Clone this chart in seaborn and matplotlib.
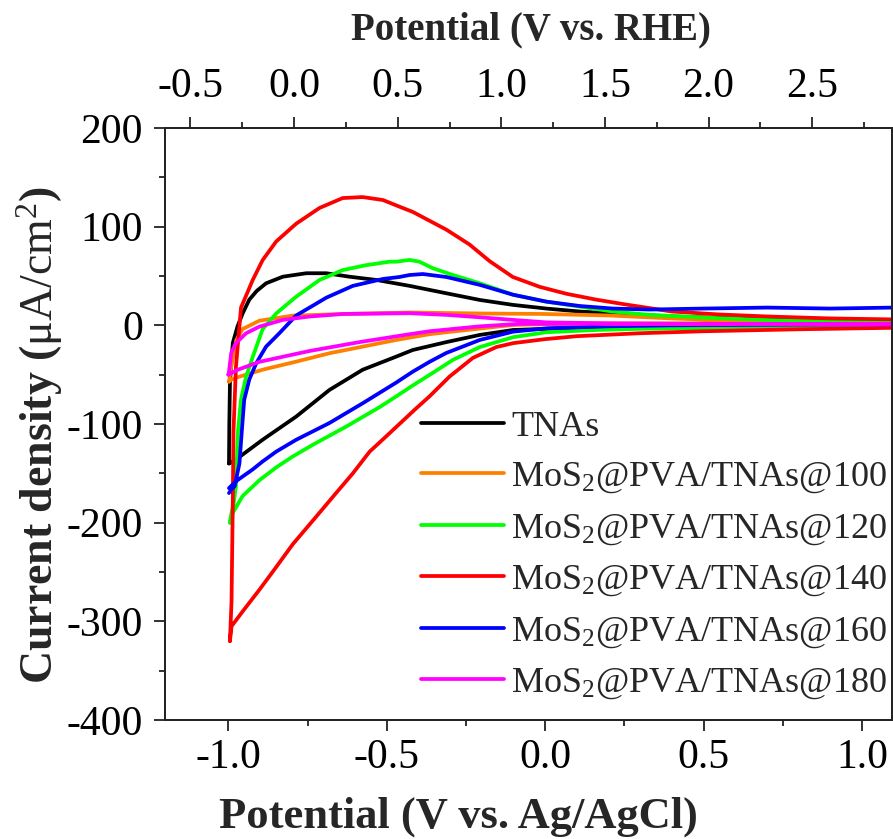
import numpy as np
import seaborn as sns
import matplotlib.pyplot as plt
from matplotlib.ticker import MultipleLocator

# ------------------- Data -------------------
labels = ['TNAs', 'MoS$_2$@PVA/TNAs@100', 'MoS$_2$@PVA/TNAs@120',
          'MoS$_2$@PVA/TNAs@140', 'MoS$_2$@PVA/TNAs@160', 'MoS$_2$@PVA/TNAs@180']
colors = ['#000000', '#FF8000', '#00FF00', '#FF0000', '#0000FF', '#FF00FF']

# each loop: anodic branch (left -> right) then cathodic branch (right -> left)
tnas_x = [-0.998, -0.997, -0.995, -0.99, -0.986, -0.971, -0.955, -0.934, -0.91, -0.881, -0.828,
          -0.754, -0.691, -0.618, -0.533, -0.428, -0.312, -0.206, -0.101, 0.004, 0.109, 0.213,
          0.4, 0.6, 0.8, 1.0, 1.2,
          1.2, 1.0, 0.7, 0.4, 0.2, 0.056, -0.101, -0.206, -0.312, -0.418, -0.47, -0.576,
          -0.681, -0.786, -0.892, -0.976, -0.998]
tnas_y = [-140, -100, -59, -35, -18, -1, 12, 26, 35, 42.6, 49.3,
          52.8, 52.8, 49.3, 46, 40, 32.5, 25.7, 20.7, 17, 14, 12,
          9, 7, 6, 5, 5,
          -1, -1, -1.5, -2, -2.5, -3, -4.7, -9.7, -17, -25, -31.7, -45,
          -65.5, -92.5, -116, -136, -140]

m100_x = [-0.998, -0.99, -0.975, -0.955, -0.902, -0.797, -0.639, -0.428, -0.2, 0.0, 0.2, 0.4,
          0.6, 0.8, 1.0, 1.2,
          1.2, 0.8, 0.4, 0.109, -0.101, -0.312, -0.365, -0.47, -0.576, -0.681, -0.786,
          -0.892, -0.965, -0.99, -0.998]
m100_y = [-57, -40, -15, -3.7, 4.7, 9.8, 11.5, 13, 12, 11.5, 10, 7,
          4.7, 3.5, 2.5, 2,
          2, 2, 2, 2, 0.4, -7, -9, -14.8, -21.6, -28.3, -36.8,
          -45, -52, -55, -57]

m120_x = [-0.995, -0.99, -0.983, -0.976, -0.97, -0.96, -0.944, -0.923, -0.892, -0.849, -0.786,
          -0.712, -0.639, -0.565, -0.491, -0.47, -0.428, -0.397, -0.354, -0.291, -0.206,
          -0.101, 0.004, 0.109, 0.213, 0.33, 0.5, 0.7, 0.9, 1.2,
          1.2, 0.9, 0.6, 0.3, 0.162, 0.004, -0.101, -0.206, -0.291, -0.344, -0.418, -0.47,
          -0.523, -0.628, -0.733, -0.797, -0.849, -0.902, -0.955, -0.986, -0.995]
m120_y = [-200, -190, -180, -163, -109, -75, -52, -32, -4, 12, 29,
          46, 56, 61, 64.5, 64.5, 66.3, 64.5, 57.8, 51, 42.6,
          31, 24, 19, 14, 10.6, 8, 5.5, 4, 3.5,
          -1, -1.5, -2.5, -3.5, -4.7, -7, -12, -22, -35, -46, -61, -72,
          -83, -102.6, -121, -133, -144, -157, -173, -190, -200]

m140_x = [-0.995, -0.99, -0.986, -0.984, -0.976, -0.96, -0.923, -0.892, -0.849, -0.786, -0.712,
          -0.639, -0.576, -0.512, -0.45, -0.418, -0.312, -0.239, -0.175, -0.102, -0.017, 0.067,
          0.162, 0.257, 0.4, 0.55, 0.7, 0.9, 1.1, 1.2,
          1.2, 1.1, 0.8, 0.5, 0.3, 0.1, 0.0, -0.1, -0.154, -0.228, -0.302, -0.365, -0.41,
          -0.46, -0.5, -0.554, -0.607, -0.66, -0.723, -0.797, -0.849, -0.902, -0.955, -0.99,
          -0.995]
m140_y = [-320, -280, -180, -109, -42, 18, 46, 66, 85, 103, 119,
          129, 130, 127, 119, 115, 97, 82, 65, 49, 39, 32,
          26, 21, 14, 11, 9, 7, 6, 5,
          -2, -2.5, -4, -6, -8, -11, -14, -18, -22, -33, -52, -72, -85,
          -100, -112, -128, -150, -170, -194, -222, -245, -268, -290, -305,
          -320]

m160_x = [-0.998, -0.99, -0.98, -0.965, -0.958, -0.95, -0.934, -0.912, -0.881, -0.839, -0.786,
          -0.733, -0.691, -0.607, -0.512, -0.46, -0.428, -0.386, -0.312, -0.206, -0.101, 0.004,
          0.109, 0.214, 0.33, 0.5, 0.7, 0.9, 1.1, 1.2,
          1.2, 1.0, 0.7, 0.4, 0.2, 0.004, -0.101, -0.206, -0.312, -0.365, -0.418, -0.47,
          -0.576, -0.681, -0.786, -0.849, -0.892, -0.923, -0.976, -0.998]
m160_y = [-170, -166, -163, -140, -109, -75.6, -55, -38.4, -21.6, -8, 10,
          20, 28, 40, 47, 49, 51, 52, 49, 41, 31, 24,
          19.6, 17, 16, 17, 18, 17, 18, 18,
          1, 1, 0.5, 0, -1, -3, -6.4, -14.8, -28, -37, -47, -58,
          -79, -99, -116, -128, -138, -146, -158, -165]

m180_x = [-1.0, -0.998, -0.991, -0.976, -0.944, -0.902, -0.828, -0.744, -0.639, -0.428, -0.312,
          -0.2, -0.101, 0.004, 0.2, 0.5, 0.8, 1.2,
          1.2, 0.5, 0.2, -0.08, -0.206, -0.365, -0.428, -0.586, -0.744, -0.902, -0.97, -1.0]
m180_y = [-50, -47, -28, -18, -8, -1.3, 5.5, 8.9, 11.5, 12.3, 10.6,
          8, 5.5, 3, 2, 1.5, 1, 1,
          1, 1, 1.5, 1.5, -1, -6, -9, -17, -26, -37, -45, -50]

series_x = [tnas_x, m100_x, m120_x, m140_x, m160_x, m180_x]
series_y = [tnas_y, m100_y, m120_y, m140_y, m160_y, m180_y]

# ------------------- Style -------------------
sns.set_style('ticks')
plt.rcParams['font.family'] = ['Liberation Serif', 'DejaVu Serif']
plt.rcParams['mathtext.fontset'] = 'custom'
plt.rcParams['mathtext.rm'] = 'Liberation Serif'
plt.rcParams['mathtext.it'] = 'Liberation Serif:italic'
plt.rcParams['mathtext.bf'] = 'Liberation Serif:bold'
plt.rcParams['axes.unicode_minus'] = False

fig = plt.figure(figsize=(8.93, 8.39), dpi=100)
ax = fig.add_axes([165 / 893, 1 - 720 / 839, 727 / 893, 592 / 839])

for xs, ys, lab, col in zip(series_x, series_y, labels, colors):
    sns.lineplot(x=xs, y=ys, sort=False, estimator=None, color=col, lw=2.7,
                 label=lab, ax=ax)

ax.set_xlim(-1.2, 1.095)
ax.set_ylim(-400, 200)
ax.xaxis.set_major_locator(MultipleLocator(0.5))
ax.xaxis.set_minor_locator(MultipleLocator(0.25))
ax.yaxis.set_major_locator(MultipleLocator(100))
ax.yaxis.set_minor_locator(MultipleLocator(50))
ax.xaxis.set_major_formatter(plt.FormatStrFormatter('%.1f'))
ax.tick_params(which='both', direction='out', width=1.3, labelsize=30, colors='#222222',
               labelcolor='black')
ax.tick_params(which='major', length=8)
ax.tick_params(which='minor', length=4.5)
ax.tick_params(axis='x', which='major', pad=5)
ax.tick_params(axis='y', which='major', pad=8)
for s in ax.spines.values():
    s.set_linewidth(1.3)
    s.set_color('#222222')

ax.set_xlabel('Potential (V vs. Ag/AgCl)', fontsize=32, fontweight='bold')
ax.xaxis.set_label_coords(0.404, -0.13)
ax.set_ylabel('Current density ($\\mathrm{μA/cm^2}$)', fontsize=33, fontweight='bold')
ax.yaxis.set_label_coords(-0.137, 0.482)

# top axis in RHE scale
ax2 = ax.twiny()
ax2.set_xlim(-0.623, 2.885)
ax2.xaxis.set_major_locator(MultipleLocator(0.5))
ax2.xaxis.set_minor_locator(MultipleLocator(0.25))
ax2.xaxis.set_major_formatter(plt.FormatStrFormatter('%.1f'))
ax2.tick_params(which='both', direction='out', width=1.3, labelsize=30, colors='#222222',
                labelcolor='black')
ax2.tick_params(which='major', length=8, pad=8)
ax2.tick_params(which='minor', length=4.5)
ax2.set_xlabel('Potential (V vs. RHE)', fontsize=28, fontweight='bold')
ax2.xaxis.set_label_coords(0.503, 1.15)
for s in ax2.spines.values():
    s.set_linewidth(1.3)
    s.set_color('#222222')

ax.legend(loc='upper left', bbox_to_anchor=(0.352, 0.523), frameon=False, fontsize=26,
          handlelength=2.3, handletextpad=0.2, labelspacing=0.47, borderpad=0,
          borderaxespad=0)

plt.savefig('out.png', dpi=100)
